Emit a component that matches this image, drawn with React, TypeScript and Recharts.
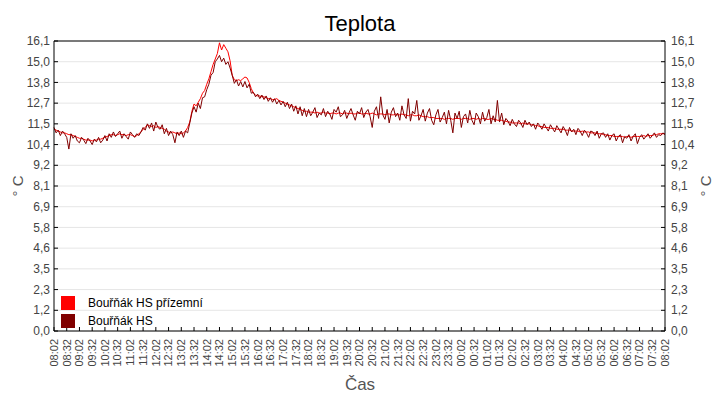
import React from 'react';
import { LineChart, Line, XAxis, YAxis, CartesianGrid, ReferenceLine } from 'recharts';

const STEP_MIN = 5;

const redSeries = [
  11.2, 11.15, 11.1, 11.05, 11.0, 11.0, 10.95, 10.9, 10.9, 10.85,
  10.8, 10.75, 10.7, 10.7, 10.65, 10.6, 10.6, 10.6, 10.55, 10.6,
  10.6, 10.65, 10.65, 10.7, 10.75, 10.8, 10.85, 10.9, 10.9, 10.85,
  10.9, 10.95, 10.9, 10.9, 10.85, 10.9, 10.9, 10.85, 10.8, 10.85,
  10.95, 11.05, 11.2, 11.3, 11.45, 11.4, 11.35, 11.4, 11.3, 11.35,
  11.3, 11.25, 11.2, 11.1, 11.05, 11.0, 11.05, 11.0, 10.95, 11.0,
  10.95, 11.0, 11.1, 11.3, 11.6, 12.2, 12.6, 12.5, 12.7, 12.9,
  13.2, 13.35, 13.7, 14.0, 14.4, 14.8, 15.1, 15.4, 16.0, 15.6,
  15.9, 15.7, 15.5, 15.0, 14.2, 13.95, 13.9, 13.95, 13.9, 14.0,
  14.1, 14.05, 13.8, 13.45, 13.2, 13.1, 13.05, 13.05, 13.0, 13.0,
  12.95, 12.9, 12.9, 12.85, 12.85, 12.9, 12.8, 12.75, 12.7, 12.65,
  12.6, 12.55, 12.5, 12.45, 12.4, 12.35, 12.3, 12.25, 12.2, 12.2,
  12.15, 12.15, 12.15, 12.1, 12.15, 12.1, 12.1, 12.15, 12.1, 12.1,
  12.05, 12.1, 12.1, 12.05, 12.1, 12.1, 12.05, 12.1, 12.1, 12.05,
  12.1, 12.05, 12.05, 12.1, 12.1, 12.05, 12.05, 12.1, 12.05, 12.05,
  12.1, 12.05, 12.0, 12.05, 12.05, 12.05, 12.0, 12.05, 12.05, 12.0,
  12.0, 12.05, 12.0, 12.0, 12.05, 12.0, 12.0, 11.95, 12.0, 12.0,
  11.95, 11.95, 12.0, 11.95, 11.9, 11.9, 11.9, 11.85, 11.85, 11.85,
  11.8, 11.8, 11.8, 11.8, 11.75, 11.8, 11.8, 11.8, 11.75, 11.8,
  11.8, 11.8, 11.75, 11.8, 11.8, 11.8, 11.75, 11.8, 11.8, 11.75,
  11.8, 11.75, 11.8, 11.8, 11.75, 11.75, 11.8, 11.75, 11.75, 11.7,
  11.7, 11.7, 11.65, 11.65, 11.6, 11.6, 11.55, 11.55, 11.55, 11.55,
  11.5, 11.55, 11.5, 11.5, 11.5, 11.45, 11.45, 11.4, 11.4, 11.35,
  11.35, 11.3, 11.3, 11.3, 11.25, 11.25, 11.25, 11.2, 11.2, 11.2,
  11.2, 11.15, 11.15, 11.15, 11.1, 11.1, 11.1, 11.1, 11.05, 11.1,
  11.05, 11.05, 11.05, 11.0, 11.0, 11.0, 10.95, 10.95, 10.95, 10.9,
  10.9, 10.85, 10.85, 10.85, 10.8, 10.8, 10.8, 10.8, 10.8, 10.75,
  10.8, 10.8, 10.75, 10.8, 10.8, 10.8, 10.8, 10.8, 10.85, 10.8,
  10.85, 10.85, 10.85, 10.9, 10.9, 10.95, 10.95, 10.95, 10.95,
];

const darkSeries = [
  11.3, 11.0, 11.15, 10.85, 11.1, 10.95, 10.75, 10.1, 10.95, 10.7,
  10.85, 10.55, 10.45, 10.75, 10.6, 10.4, 10.7, 10.55, 10.35, 10.65,
  10.5, 10.75, 10.45, 10.6, 10.85, 10.55, 10.95, 10.75, 11.05, 10.8,
  10.95, 11.1, 10.7, 10.95, 10.8, 10.65, 11.05, 10.9, 10.75, 10.95,
  10.85, 11.05, 11.3, 11.15, 11.5, 11.25, 11.55, 11.1, 11.6, 11.3,
  11.2, 11.45, 10.95, 11.25, 10.85, 11.1, 10.9, 10.45, 11.05, 10.85,
  11.1, 10.75, 11.1, 11.0, 11.55, 12.1, 12.45, 12.15, 12.65, 12.35,
  12.95, 13.0, 13.4, 13.7, 14.2, 14.35, 14.95, 15.1, 15.3, 14.95,
  15.15, 14.8, 14.95, 14.6, 14.2, 13.75, 13.95, 13.6, 13.85, 13.55,
  13.85, 13.5, 13.7, 13.2, 13.25, 13.0, 13.15, 12.9, 13.1, 12.85,
  13.05, 12.75, 12.95, 12.7, 12.9, 12.6, 12.8, 12.55, 12.75, 12.45,
  12.7, 12.35, 12.6, 12.2, 12.5, 12.05, 12.45, 11.95, 12.35, 11.9,
  12.3, 11.95, 12.15, 12.4, 11.85, 12.1, 12.0, 12.35, 11.9, 12.2,
  12.05, 11.75, 12.3, 12.15, 12.45, 11.9, 12.0, 12.25, 11.8, 12.1,
  12.35, 12.0, 11.7, 12.2, 12.05, 12.4, 11.85, 12.15, 12.3, 11.9,
  11.3, 12.2, 12.45, 11.8, 13.0, 12.0, 11.75, 12.3, 11.55, 12.15,
  12.4, 11.9, 12.1, 11.7, 12.5, 12.0, 11.8, 12.9, 11.65, 12.2,
  12.05, 12.8, 11.7, 11.95, 12.3, 11.65, 12.1, 12.35, 11.7, 11.45,
  12.0, 12.3, 11.6, 11.85, 12.15, 11.5, 12.25, 11.7, 11.0, 12.1,
  11.8, 12.2, 11.3, 11.9, 12.05, 11.55, 12.25, 11.7, 11.45, 12.1,
  11.9, 11.5, 12.15, 11.65, 11.85, 12.3, 11.5, 11.95, 11.6, 12.8,
  11.6, 12.1, 11.45, 11.8, 11.65, 11.4, 11.75, 11.5, 11.35, 11.7,
  11.55, 11.3, 11.7, 11.45, 11.6, 11.35, 11.5, 11.2, 11.55, 11.4,
  11.2, 11.5, 11.3, 11.1, 11.45, 11.25, 11.05, 11.4, 11.2, 11.0,
  11.35, 11.15, 10.85, 11.3, 11.05, 11.2, 10.9, 11.25, 11.1, 10.85,
  11.15, 11.0, 10.75, 11.1, 11.05, 10.85, 11.1, 10.7, 10.95, 11.0,
  10.75, 10.95, 10.6, 10.85, 10.95, 10.55, 10.8, 10.9, 10.45, 10.8,
  10.7, 10.9, 10.55, 10.8, 10.95, 10.4, 10.75, 10.9, 10.65, 10.8,
  10.95, 10.7, 10.85, 11.0, 10.75, 10.9, 10.85, 11.0, 10.9,
];

const yTicks = [0, 1.15, 2.3, 3.45, 4.6, 5.75, 6.9, 8.05, 9.2, 10.35, 11.5, 12.65, 13.8, 14.95, 16.1];
const yTickLabels = ['0,0', '1,2', '2,3', '3,5', '4,6', '5,8', '6,9', '8,1', '9,2', '10,4', '11,5', '12,7', '13,8', '15,0', '16,1'];

const xTickLabels = [
  '08:02', '08:32', '09:02', '09:32', '10:02', '10:32', '11:02', '11:32', '12:02', '12:32',
  '13:02', '13:32', '14:02', '14:32', '15:02', '15:32', '16:02', '16:32', '17:02', '17:32',
  '18:02', '18:32', '19:02', '19:32', '20:02', '20:32', '21:02', '21:32', '22:02', '22:32',
  '23:02', '23:32', '00:02', '00:32', '01:02', '01:32', '02:02', '02:32', '03:02', '03:32',
  '04:02', '04:32', '05:02', '05:32', '06:02', '06:32', '07:02', '07:32', '08:02',
];
const X_TICK_STEP = 30;
const xTicks = xTickLabels.map((_, i) => i * X_TICK_STEP);

const seriesNames = ['Bouřňák HS přízemní', 'Bouřňák HS'];
const seriesColors = ['#ff0000', '#800000'];

const rows = redSeries.map((r, i) => ({ t: i * STEP_MIN, red: r, dark: darkSeries[i] }));

const FONT = '"Liberation Sans", Arial, sans-serif';
const TICK_FILL = '#444';

const yLabel = (v: number) => {
  const idx = yTicks.findIndex((t) => Math.abs(t - v) < 1e-6);
  return idx >= 0 ? yTickLabels[idx] : String(v);
};

const LeftTick = (props: any) => {
  const { x, y, payload } = props;
  return (
    <g>
      <line x1={x + 4} x2={x + 8} y1={y} y2={y} stroke="#000" />
      <text x={x} y={y} dy="0.35em" textAnchor="end" fill={TICK_FILL} fontSize={12} fontFamily={FONT}>
        {yLabel(payload.value)}
      </text>
    </g>
  );
};

const RightTick = (props: any) => {
  const { x, y, payload } = props;
  return (
    <g>
      <line x1={x - 10} x2={x - 6} y1={y} y2={y} stroke="#000" />
      <text x={x} y={y} dy="0.35em" textAnchor="start" fill={TICK_FILL} fontSize={12} fontFamily={FONT}>
        {yLabel(payload.value)}
      </text>
    </g>
  );
};

const BottomTick = (props: any) => {
  const { x, y, payload } = props;
  const idx = Math.round(payload.value / X_TICK_STEP);
  return (
    <g>
      <line x1={x} x2={x} y1={y - 8} y2={y - 12} stroke="#000" />
      <text
        x={x}
        y={y}
        dy="0.35em"
        textAnchor="end"
        fill={TICK_FILL}
        fontSize={11}
        fontFamily={FONT}
        transform={`rotate(-90, ${x}, ${y})`}
      >
        {xTickLabels[idx]}
      </text>
    </g>
  );
};

export default function App() {
  return (
    <div style={{ position: 'absolute', left: 0, top: 0, width: 720, height: 400, background: '#fff', fontFamily: FONT }}>
      <LineChart
        width={720}
        height={400}
        data={rows}
        margin={{ top: 41, right: 0, bottom: 0, left: 0 }}
        style={{ fontFamily: FONT }}
      >
        <CartesianGrid vertical={false} stroke="#e6e6e6" yAxisId="left" />
        <XAxis
          dataKey="t"
          type="number"
          domain={[0, 1440]}
          ticks={xTicks}
          interval={0}
          height={69}
          tickSize={0}
          tickMargin={8}
          tickLine={false}
          axisLine={{ stroke: '#000' }}
          tick={<BottomTick />}
        />
        <YAxis
          yAxisId="left"
          type="number"
          domain={[0, 16.1]}
          ticks={yTicks}
          interval={0}
          width={54}
          tickSize={0}
          tickMargin={4}
          tickLine={false}
          axisLine={{ stroke: '#000' }}
          tick={<LeftTick />}
        />
        <YAxis
          yAxisId="right"
          orientation="right"
          type="number"
          domain={[0, 16.1]}
          ticks={yTicks}
          interval={0}
          width={55}
          tickSize={0}
          tickMargin={6}
          tickLine={false}
          axisLine={{ stroke: '#000' }}
          tick={<RightTick />}
        />
        <ReferenceLine y={16.1} yAxisId="left" stroke="#000" />
        <Line
          yAxisId="left"
          dataKey="red"
          name={seriesNames[0]}
          type="linear"
          stroke={seriesColors[0]}
          strokeWidth={1}
          dot={false}
          isAnimationActive={false}
        />
        <Line
          yAxisId="right"
          dataKey="dark"
          name={seriesNames[1]}
          type="linear"
          stroke={seriesColors[1]}
          strokeWidth={1}
          dot={false}
          isAnimationActive={false}
        />
      </LineChart>
      <svg
        width={720}
        height={400}
        style={{ position: 'absolute', left: 0, top: 0, pointerEvents: 'none' }}
        fontFamily={FONT}
      >
        <text x={360} y={31} textAnchor="middle" fontSize={22} fill="#000">Teplota</text>
        <text x={360} y={390} textAnchor="middle" fontSize={17} fill="#555">Čas</text>
        <text x={23} y={186} textAnchor="middle" fontSize={15} fill="#555" transform="rotate(-90, 23, 186)">° C</text>
        <text x={711} y={186} textAnchor="middle" fontSize={15} fill="#555" transform="rotate(-90, 711, 186)">° C</text>
        {seriesNames.map((name, i) => (
          <g key={name}>
            <rect x={61} y={296 + i * 18} width={14} height={14} fill={seriesColors[i]} />
            <text x={88} y={307 + i * 18} fontSize={12} fill="#000">{name}</text>
          </g>
        ))}
      </svg>
    </div>
  );
}
